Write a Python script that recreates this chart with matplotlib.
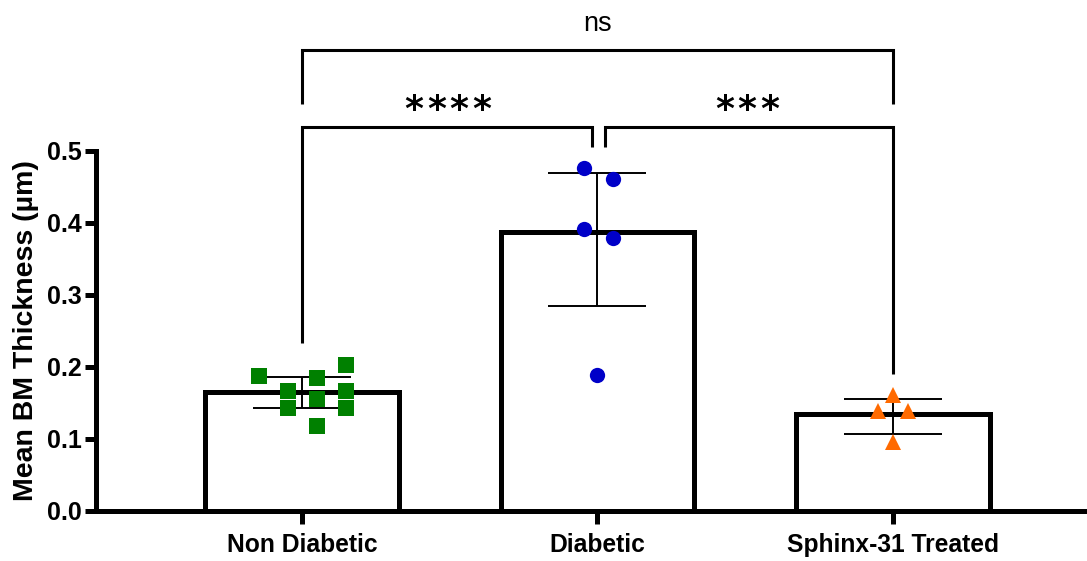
import matplotlib
matplotlib.use("Agg")
import matplotlib.pyplot as plt
import numpy as np

plt.rcParams['font.family'] = ['Liberation Sans', 'DejaVu Sans']

categories = ["Non Diabetic", "Diabetic", "Sphinx-31 Treated"]
bar_means = [0.165, 0.388, 0.135]
err_low = [0.143, 0.285, 0.107]
err_high = [0.186, 0.469, 0.156]

nd_vals = [0.1875, 0.167, 0.143, 0.118, 0.156, 0.185, 0.203, 0.167, 0.143]
nd_offs = [-0.146, -0.048, -0.048, 0.050, 0.050, 0.050, 0.149, 0.149, 0.149]
d_vals = [0.476, 0.461, 0.392, 0.379, 0.189]
d_offs = [-0.046, 0.052, -0.046, 0.052, 0.0]
s_vals = [0.161, 0.139, 0.139, 0.096]
s_offs = [0.0, -0.05, 0.05, 0.0]

colors = ["#008000", "#0000C8", "#FF6A00"]
markers = ["s", "o", "^"]

fig = plt.figure(figsize=(10.87, 5.61), dpi=100)
ax = fig.add_axes([96/1087, 50/561, 991/1087, 360/561])

x = np.arange(len(categories))
ax.bar(x, bar_means, width=0.655, facecolor="white", edgecolor="black",
       linewidth=3.6, zorder=2)

yerr = [np.array(bar_means) - np.array(err_low), np.array(err_high) - np.array(bar_means)]
ax.errorbar(x, bar_means, yerr=yerr, fmt="none", ecolor="black", elinewidth=1.4,
            capsize=35, capthick=1.4, zorder=3)

for i, (vals, offs) in enumerate([(nd_vals, nd_offs), (d_vals, d_offs), (s_vals, s_offs)]):
    ax.plot(x[i] + np.array(offs), vals, linestyle="none", marker=markers[i],
            color=colors[i], markersize=11 if i != 2 else 12, markeredgewidth=0, zorder=4)

ax.set_xlim(-0.697, 2.657)
ax.set_ylim(0, 0.5)
ax.set_yticks([0.0, 0.1, 0.2, 0.3, 0.4, 0.5])
ax.set_yticklabels(["0.0", "0.1", "0.2", "0.3", "0.4", "0.5"])
ax.set_xticks(x)
ax.set_xticklabels(categories)
for sp in ["top", "right"]:
    ax.spines[sp].set_visible(False)
for sp in ["left", "bottom"]:
    ax.spines[sp].set_linewidth(3.6)
ax.tick_params(axis="y", length=8, width=3.6, labelsize=18, pad=2)
ax.tick_params(axis="x", length=9, width=3.6, labelsize=17.7, pad=7)
for lab in ax.get_xticklabels() + ax.get_yticklabels():
    lab.set_fontweight("bold")
ax.set_ylabel("Mean BM Thickness (µm)", fontsize=20.5, fontweight="bold", labelpad=6)

# significance brackets
lw_b = 2.2
def line(xs, ys):
    ax.plot(xs, ys, color="black", linewidth=lw_b, clip_on=False, zorder=5,
            solid_joinstyle="miter", solid_capstyle="butt")

line([0, 0, 1 - 0.02, 1 - 0.02], [0.233, 0.533, 0.533, 0.506])
line([1 + 0.025, 1 + 0.025, 2, 2], [0.506, 0.533, 0.533, 0.190])
line([0, 0, 2, 2], [0.565, 0.640, 0.640, 0.565])

star_pitch = 0.076
for k in range(4):
    ax.text(0.38 + k * star_pitch, 0.543, "*", ha="center", va="baseline",
            fontsize=26, fontweight="bold", family="DejaVu Sans", clip_on=False)
for k in range(3):
    ax.text(1.43 + k * star_pitch, 0.543, "*", ha="center", va="baseline",
            fontsize=26, fontweight="bold", family="DejaVu Sans", clip_on=False)
ax.text(1.0, 0.666, "ns", ha="center", va="baseline", fontsize=19.5, clip_on=False)

fig.savefig("out.png", dpi=100)
